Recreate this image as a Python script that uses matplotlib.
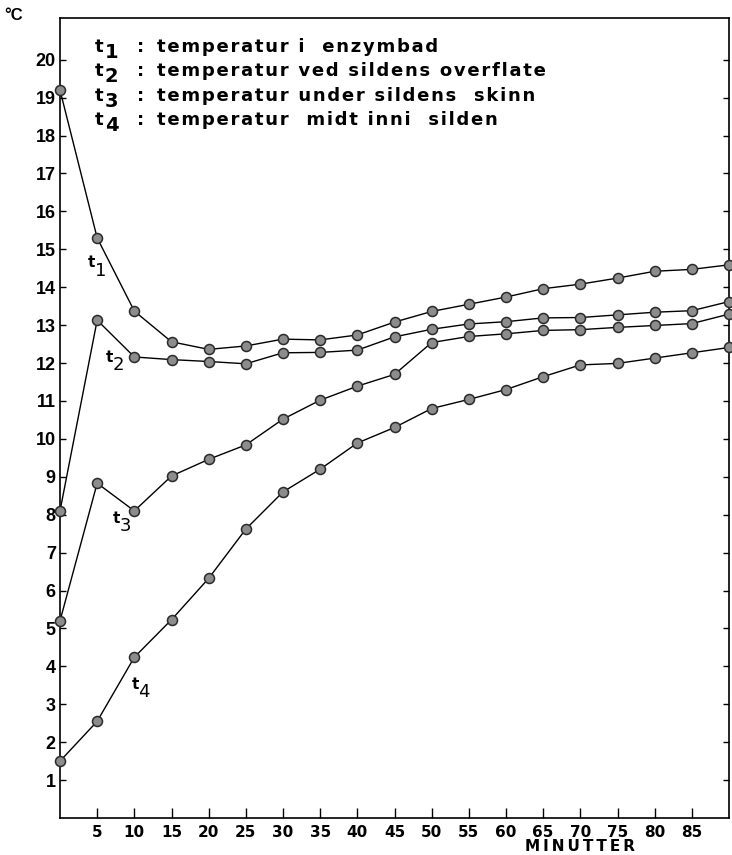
import matplotlib
matplotlib.use("Agg")
import matplotlib.pyplot as plt
import numpy as np

# minutes
minutes = [0, 5, 10, 15, 20, 25, 30, 35, 40, 45, 50, 55, 60, 65, 70, 75, 80, 85, 90]

# t1 : temperatur i enzymbad
t1 = [19.2, 15.3, 13.37, 12.56, 12.36, 12.45, 12.63, 12.61, 12.74, 13.08,
      13.36, 13.55, 13.74, 13.96, 14.08, 14.24, 14.42, 14.47, 14.59]
# t2 : temperatur ved sildens overflate
t2 = [8.1, 13.13, 12.16, 12.09, 12.04, 11.98, 12.27, 12.28, 12.34, 12.69,
      12.89, 13.03, 13.09, 13.19, 13.2, 13.27, 13.34, 13.38, 13.62]
# t3 : temperatur under sildens skinn
t3 = [5.2, 8.83, 8.1, 9.02, 9.46, 9.84, 10.52, 11.02, 11.39, 11.7,
      12.54, 12.7, 12.77, 12.86, 12.88, 12.94, 12.99, 13.04, 13.29]
# t4 : temperatur midt inni silden
t4 = [1.5, 2.55, 4.24, 5.23, 6.32, 7.62, 8.6, 9.2, 9.89, 10.3,
      10.8, 11.04, 11.3, 11.64, 11.95, 11.99, 12.13, 12.27, 12.41]

legend_lines = ["temperatur i  enzymbad",
                "temperatur ved sildens overflate",
                "temperatur under sildens  skinn",
                "temperatur  midt inni  silden"]
xticks = [5, 10, 15, 20, 25, 30, 35, 40, 45, 50, 55, 60, 65, 70, 75, 80, 85]
yticks = list(range(1, 21))

W, H = 732, 855
fig = plt.figure(figsize=(W / 100, H / 100), dpi=100)
ax = fig.add_axes([60 / W, 1 - 818 / H, 669 / W, 800 / H])


def px(x, y):
    # figure pixel -> figure fraction
    return x / W, 1 - y / H


def spaced(s, sep='\u200a'):
    # poor man's letter spacing
    return sep.join(s)


for s in [t1, t2, t3, t4]:
    ax.plot(minutes, s, color='black', lw=1.0, marker='o', ms=7.2,
            mfc='#8c8c8c', mec='#2a2a2a', mew=1.1, clip_on=False, zorder=3)

ax.set_xlim(0, 90)
ax.set_ylim(0, 21.1)
for sp in ax.spines.values():
    sp.set_linewidth(1.2)

ax.set_xticks(xticks)
ax.set_xticklabels([str(v) for v in xticks], fontsize=11, fontweight='bold',
                   family='DejaVu Sans')
ax.tick_params(axis='x', direction='in', length=7, width=1, pad=5)
ax.set_yticks(yticks)
ax.set_yticklabels([str(v) for v in yticks], fontsize=13, fontweight='bold',
                   family='Liberation Sans')
ax.tick_params(axis='y', direction='in', length=4, width=1, pad=3,
               right=True, labelright=False)

# degree label and x-axis title
fig.text(*px(14, 16), "°C", fontsize=12, fontweight='bold', family='Liberation Sans',
         ha='center', va='center')
fig.text(*px(580, 846), spaced("MINUTTER", '\u2009'), fontsize=11, fontweight='bold',
         ha='center', va='center')

# legend text block
for i, line in enumerate(legend_lines):
    base = 52 + i * 24.3
    fig.text(*px(95, base), "t", fontsize=13, fontweight='bold',
             ha='left', va='baseline')
    fig.text(*px(105, base + 6), str(i + 1), fontsize=14, fontweight='bold',
             ha='left', va='baseline')
    fig.text(*px(137, base), ":", fontsize=13, fontweight='bold',
             ha='left', va='baseline')
    fig.text(*px(157, base), spaced(line), fontsize=13, fontweight='bold',
             ha='left', va='baseline')

# curve labels
curve_labels = [(4.2, 14.65, "1"), (6.6, 12.15, "2"), (7.6, 7.9, "3"), (10.1, 3.53, "4")]
for x, y, d in curve_labels:
    ax.text(x, y, "t", fontsize=11, fontweight='bold', ha='center', va='center')
    ax.annotate(d, (x, y), xytext=(9, -8), textcoords='offset pixels',
                fontsize=13, ha='center', va='center')

fig.savefig("out.png", dpi=100)
